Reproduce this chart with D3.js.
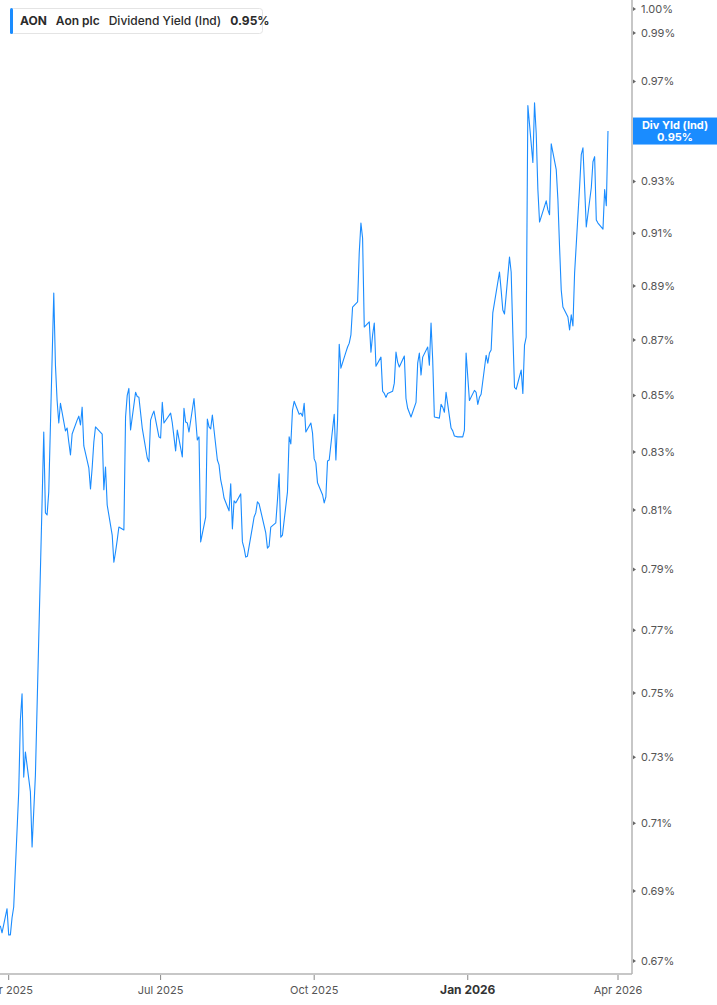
<html>
  <head>
    <meta charset="utf-8">
    <title>AON dividend yield</title>
    <script src="https://cdn.jsdelivr.net/npm/d3@7"></script>
    <style>
      body { margin: 0; background: #fff; font-family: Inter, "Noto Sans", sans-serif; }
      .ylab { fill: #555; font-size: 11px; }
      .xlab { fill: #555; font-size: 11px; }
      .xlab.major { fill: #333; font-size: 12px; font-weight: 700; }
    </style>
  </head>
  <body>
    <svg width="717" height="1005"></svg>
    <script>
      // daily indicated dividend yield, %, one value per trading day from 2025-03-27
      var startDate = '2025-03-27';
      var holidays = ['2025-04-18', '2025-05-26', '2025-06-19', '2025-07-04', '2025-09-01',
                      '2025-11-27', '2025-12-25', '2026-01-01', '2026-01-19', '2026-02-16'];
      var yieldValues = [
        0.6800, 0.6780, 0.6849, 0.6774, 0.6774, 0.6823, 0.6854, 0.7194, 0.7416, 0.7497,
        0.7239, 0.7316, 0.7194, 0.7029, 0.7136, 0.7245, 0.8128, 0.8370, 0.8090, 0.8083,
        0.8162, 0.8874, 0.8609, 0.8482, 0.8402, 0.8472, 0.8374, 0.8384, 0.8335, 0.8290,
        0.8363, 0.8412, 0.8426, 0.8395, 0.8458, 0.8321, 0.8245, 0.8172, 0.8245, 0.8335,
        0.8388, 0.8363, 0.8169, 0.8248, 0.8117, 0.8015, 0.7924, 0.7958, 0.7998, 0.8042,
        0.8032, 0.8423, 0.8500, 0.8525, 0.8377, 0.8511, 0.8496, 0.8493, 0.8384, 0.8279,
        0.8266, 0.8412, 0.8430, 0.8444, 0.8353, 0.8349, 0.8475, 0.8402, 0.8437, 0.8402,
        0.8353, 0.8304, 0.8377, 0.8283, 0.8454, 0.8405, 0.8402, 0.8370, 0.8489, 0.8416,
        0.8342, 0.8353, 0.7992, 0.8076, 0.8416, 0.8388, 0.8381, 0.8430, 0.8272, 0.8255,
        0.8203, 0.8176, 0.8141, 0.8097, 0.8190, 0.8036, 0.8131, 0.8124, 0.8155, 0.7992,
        0.7971, 0.7941, 0.7944, 0.8042, 0.8076, 0.8090, 0.8128, 0.8121, 0.8022, 0.7971,
        0.7978, 0.8042, 0.8056, 0.8134, 0.8224, 0.8008, 0.8015, 0.8162, 0.8353, 0.8328,
        0.8447, 0.8479, 0.8433, 0.8437, 0.8426, 0.8472, 0.8370, 0.8402, 0.8367, 0.8276,
        0.8262, 0.8193, 0.8152, 0.8124, 0.8145, 0.8269, 0.8272, 0.8433, 0.8272, 0.8412,
        0.8685, 0.8598, 0.8656, 0.8675, 0.8689, 0.8719, 0.8822, 0.8841, 0.9028, 0.9139,
        0.9081, 0.8748, 0.8767, 0.8656, 0.8719, 0.8763, 0.8605, 0.8638, 0.8515, 0.8507,
        0.8493, 0.8507, 0.8515, 0.8544, 0.8656, 0.8620, 0.8602, 0.8642, 0.8489, 0.8454,
        0.8423, 0.8475, 0.8616, 0.8653, 0.8573, 0.8638, 0.8675, 0.8609, 0.8763, 0.8627,
        0.8423, 0.8419, 0.8468, 0.8458, 0.8440, 0.8511, 0.8384, 0.8374, 0.8356, 0.8353,
        0.8353, 0.8377, 0.8653, 0.8482, 0.8518, 0.8511, 0.8468, 0.8493, 0.8504, 0.8645,
        0.8616, 0.8653, 0.8664, 0.8800, 0.8953, 0.8885, 0.8811, 0.8796, 0.9009, 0.8953,
        0.8726, 0.8529, 0.8522, 0.8591, 0.8507, 0.8682, 0.8711, 0.9602, 0.9375, 0.9614,
        0.9492, 0.9269, 0.9143, 0.9225, 0.9190, 0.9171, 0.9449, 0.9347, 0.9229, 0.9047,
        0.8885, 0.8822, 0.8785, 0.8737, 0.8793, 0.8752, 0.8949, 0.9280, 0.9406, 0.9433,
        0.9280, 0.9124, 0.9276, 0.9378, 0.9398, 0.9151, 0.9139, 0.9116, 0.9269, 0.9206,
        0.9500
      ];
      var yTicks = [0.67, 0.69, 0.71, 0.73, 0.75, 0.77, 0.79, 0.81, 0.83, 0.85, 0.87, 0.89, 0.91, 0.93, 0.95, 0.97, 0.99, 1.00];
      var xTicks = ['2025-04-01', '2025-07-01', '2025-10-01', '2026-01-01', '2026-04-01'];
      var xTickLabels = ['Apr 2025', 'Jul 2025', 'Oct 2025', 'Jan 2026', 'Apr 2026'];
      var lastLabel = 'Div Yld (Ind)';

      var parse = d3.timeParse('%Y-%m-%d');
      var fmt = d3.timeFormat('%Y-%m-%d');

      // trading days: weekdays minus exchange holidays
      var dates = [];
      var d = parse(startDate);
      while (dates.length < yieldValues.length) {
        var wd = d.getDay();
        if (wd !== 0 && wd !== 6 && holidays.indexOf(fmt(d)) < 0) dates.push(new Date(d));
        d = d3.timeDay.offset(d, 1);
      }
      var data = dates.map(function(dt, i) { return {date: dt, value: yieldValues[i]}; });
      var last = data[data.length - 1];

      var plotRight = 632, plotBottom = 974;
      var svg = d3.select('svg');

      var x = d3.scaleTime()
        .domain([parse(xTicks[0]), parse(xTicks[4])])
        .range([8.7, 618]);
      x.domain([x.invert(0), x.invert(plotRight)]).range([0, plotRight]);

      var y = d3.scaleLog()
        .domain([0.67, 0.99])
        .range([961, 33]);

      // axis frame
      svg.append('line').attr('x1', plotRight).attr('x2', plotRight).attr('y1', 0).attr('y2', plotBottom)
        .attr('stroke', '#b4b4b4').attr('stroke-width', 1.5);
      svg.append('line').attr('x1', 0).attr('x2', plotRight).attr('y1', plotBottom).attr('y2', plotBottom)
        .attr('stroke', '#b4b4b4').attr('stroke-width', 1.5);

      // right axis (the label under the last-value tag is covered, so skip it)
      var yAxis = svg.append('g').selectAll('g').data(yTicks).enter().append('g')
        .attr('transform', function(v) { return 'translate(' + plotRight + ',' + y(v) + ')'; });
      yAxis.append('path').attr('d', 'M1,-2L4,0L1,2Z').attr('fill', '#666');
      yAxis.filter(function(v) { return Math.abs(y(v) - y(last.value)) > 14; })
        .append('text').attr('class', 'ylab').attr('x', 9).attr('dy', '0.35em')
        .text(function(v) { return d3.format('.2f')(v) + '%'; });

      // bottom axis
      var xAxis = svg.append('g').selectAll('g').data(xTicks).enter().append('g')
        .attr('transform', function(t) { return 'translate(' + x(parse(t)) + ',' + plotBottom + ')'; });
      xAxis.append('line').attr('y1', 1).attr('y2', 6).attr('stroke', '#888');
      xAxis.append('text')
        .attr('class', function(t, i) { return i === 3 ? 'xlab major' : 'xlab'; })
        .attr('y', 20).attr('text-anchor', 'middle')
        .text(function(t, i) { return xTickLabels[i]; });

      // series
      var line = d3.line()
        .x(function(p) { return x(p.date); })
        .y(function(p) { return y(p.value); });
      svg.append('path').datum(data).attr('d', line)
        .attr('fill', 'none').attr('stroke', '#1a8cff').attr('stroke-width', 1.1)
        .attr('stroke-linejoin', 'round');

      // last value tag
      var tag = svg.append('g').attr('transform', 'translate(' + plotRight + ',' + y(last.value) + ')');
      tag.append('rect').attr('x', 1).attr('y', -13.5).attr('width', 717 - plotRight).attr('height', 27)
        .attr('fill', '#1a8cff');
      tag.append('text').attr('x', 43).attr('y', -2).attr('text-anchor', 'middle')
        .attr('fill', '#fff').attr('font-size', 11).attr('font-weight', 700).text(lastLabel);
      tag.append('text').attr('x', 43).attr('y', 10).attr('text-anchor', 'middle')
        .attr('fill', '#fff').attr('font-size', 11).attr('font-weight', 700)
        .text(d3.format('.2f')(last.value) + '%');

      // legend
      var lg = svg.append('g').attr('transform', 'translate(10,8)');
      lg.append('rect').attr('x', 0.5).attr('y', 0.5).attr('width', 252).attr('height', 25).attr('rx', 3)
        .attr('fill', '#fff').attr('stroke', '#e4e4e4');
      lg.append('rect').attr('x', 0).attr('y', 0).attr('width', 3).attr('height', 26).attr('rx', 1.5)
        .attr('fill', '#1a8cff');
      var lt = lg.append('text').attr('x', 10).attr('y', 17).attr('font-size', 12).attr('fill', '#2b2b2b');
      lt.append('tspan').attr('font-weight', 700).text('AON');
      lt.append('tspan').attr('dx', 9).attr('font-weight', 600).text('Aon plc');
      lt.append('tspan').attr('dx', 9).attr('font-weight', 500).text('Dividend Yield (Ind)');
      lt.append('tspan').attr('dx', 9).attr('font-weight', 700).text(d3.format('.2f')(last.value) + '%');
    </script>
  </body>
</html>
